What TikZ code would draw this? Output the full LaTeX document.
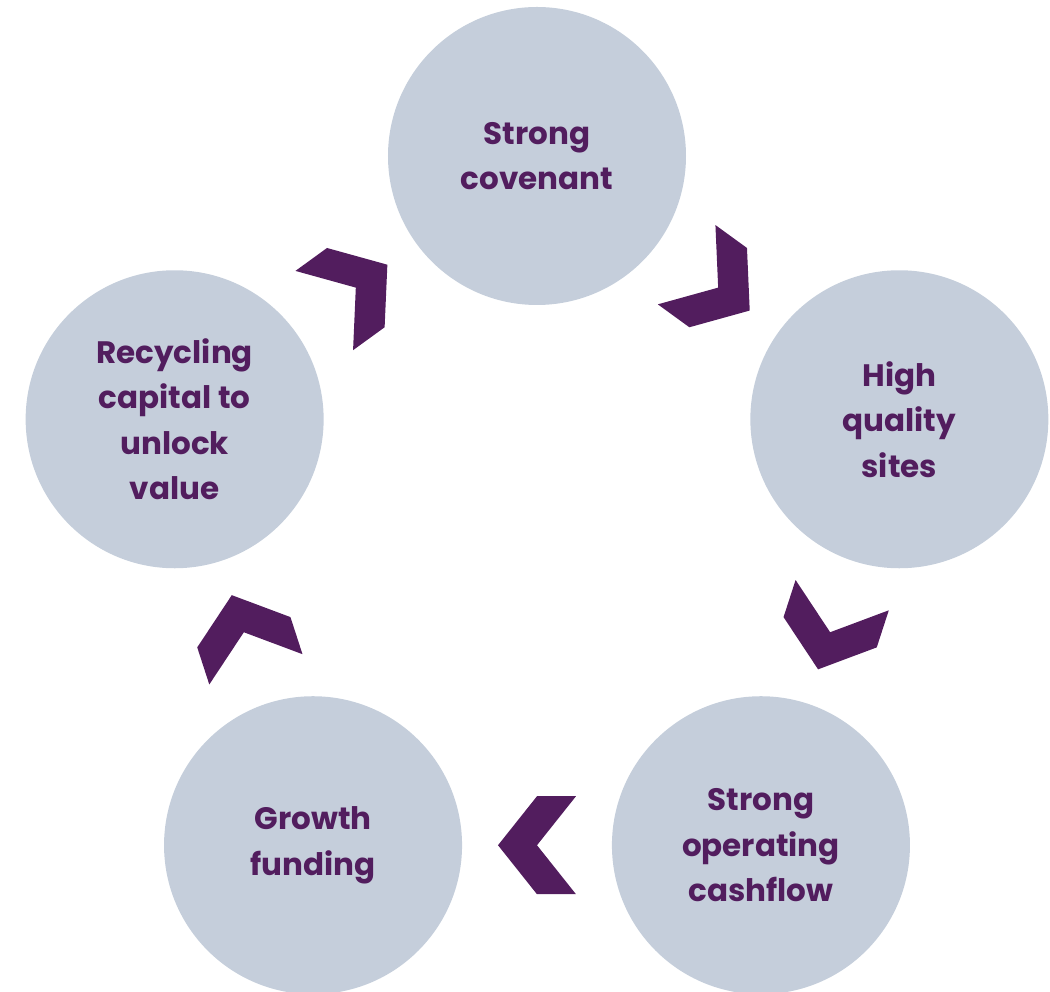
\documentclass[tikz,border=0pt]{standalone}
\usepackage{fontspec}
\setmainfont{Poppins}
\usetikzlibrary{calc}
\definecolor{bubble}{HTML}{C5CEDB}
\definecolor{plum}{HTML}{521D5E}
\tikzset{
  stage/.style={circle, fill=bubble, minimum size=298, inner sep=0pt,
    align=center, text=plum, font=\bfseries\fontsize{31}{45.5}\selectfont},
  chevron/.style={fill=plum}
}
\begin{document}
\begin{tikzpicture}[x=1pt, y=1pt]%
% cycle of five stages, chevrons on the pentagon edges
\useasboundingbox (-537,-455) rectangle (513,537);
\node[stage] (s1) at (90:381) {Strong\\covenant};
\node[stage] (s2) at (18:381) {High\\quality\\sites};
\node[stage] (s3) at (-54:381) {Strong\\operating\\cashflow};
\node[stage] (s4) at (-126:381) {Growth\\funding};
\node[stage] (s5) at (162:381) {Recycling\\capital to\\unlock\\value};
\foreach \a/\b/\ang in {s1/s2/-36, s2/s3/-108, s3/s4/180, s4/s5/108, s5/s1/36}
  \fill[chevron, shift={($(\a)!.5!(\b)$)}, rotate=\ang]
    (39,0) -- (0,49) -- (-39,49) -- (0,0) -- (-39,-49) -- (0,-49) -- cycle;
\end{tikzpicture}
\end{document}
